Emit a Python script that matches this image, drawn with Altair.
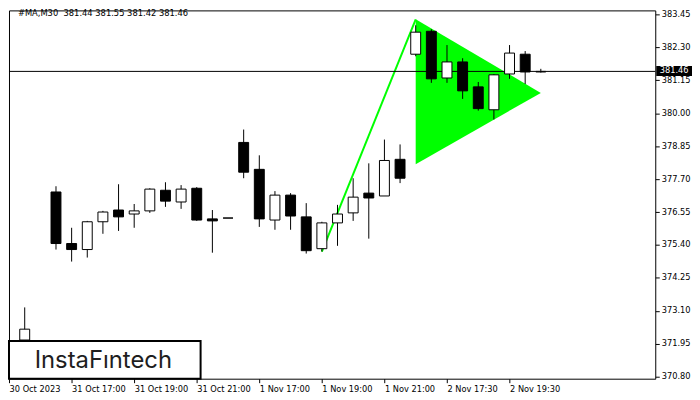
import altair as alt
import pandas as pd

# ---- data (M30 candles, index = slot position) ----
idx    = [1, 3, 4, 5, 6, 7, 8, 9, 10, 11, 12, 13, 14, 15, 16, 17, 18, 19, 20, 21, 22, 23, 24, 25,
          26, 27, 28, 29, 30, 31, 32, 33, 34]
opens  = [372.08, 377.25, 375.45, 375.24, 376.21, 376.62, 376.48, 376.59, 377.31, 376.90, 377.38, 376.31, 376.34,
          378.98, 378.04, 376.27, 377.14, 376.38, 375.27, 376.17, 376.52, 377.21, 377.11, 378.39,
          382.06, 382.86, 381.23, 381.79, 380.92, 380.12, 381.37, 382.06, 381.44]
highs  = [373.22, 377.45, 376.00, 376.24, 376.59, 377.52, 376.83, 377.38, 377.59, 377.49, 377.42, 376.62, 376.34,
          379.43, 378.53, 377.28, 377.21, 376.86, 376.21, 376.80, 377.73, 378.25, 379.08, 378.91,
          383.07, 382.93, 382.38, 381.92, 381.09, 381.37, 382.38, 382.17, 381.55]
lows   = [371.95, 375.24, 374.82, 374.96, 375.79, 375.89, 376.00, 376.52, 376.73, 376.66, 376.24, 375.13, 376.34,
          377.73, 376.03, 375.93, 375.93, 375.10, 375.17, 375.37, 376.24, 375.62, 377.11, 377.56,
          381.99, 381.06, 381.06, 380.50, 380.09, 379.78, 381.20, 381.02, 381.42]
closes = [372.46, 375.45, 375.24, 376.21, 376.55, 376.38, 376.59, 377.35, 376.93, 377.35, 376.27, 376.24, 376.34,
          377.94, 376.31, 377.14, 376.41, 375.20, 376.17, 376.48, 377.07, 377.04, 378.35, 377.73,
          382.83, 381.20, 381.79, 380.78, 380.16, 381.34, 382.10, 381.44, 381.46]

time_tick_idx = [0, 4, 8, 12, 16, 20, 24, 28, 32]
time_labels = ["30 Oct 2023", "31 Oct 17:00", "31 Oct 19:00", "31 Oct 21:00", "1 Nov 17:00",
               "1 Nov 19:00", "1 Nov 21:00", "2 Nov 17:30", "2 Nov 19:30"]
price_ticks = [370.80, 371.95, 373.10, 374.25, 375.40, 376.55, 377.70, 378.85, 380.00, 381.15, 382.30, 383.45]

pole_x = [20, 26]
pole_y = [375.17, 383.28]
flag_x = [26, 34]
flag_top = [383.28, 380.71]
flag_bot = [378.22, 380.71]

last_price = 381.46
title_text = "#MA,M30\u00a0\u00a0381.44 381.55 381.42 381.46"
logo_text = "InstaF\u0131ntech"

FONT = "DejaVu Sans"
GREEN = "#00FF00"

df = pd.DataFrame({"i": idx, "o": opens, "h": highs, "l": lows, "c": closes})

XS = alt.Scale(domain=[0.3125, 41], nice=False, zero=False)
YS = alt.Scale(domain=[370.73, 383.59], nice=False, zero=False)

label_arr = "[" + ",".join("'" + s + "'" for s in time_labels) + "]"
xaxis = alt.Axis(values=time_tick_idx, labelExpr=label_arr + "[round(datum.value/4)]",
                 labelAlign="left", labelBaseline="top", labelPadding=2, tickSize=4,
                 labelFont=FONT, labelFontSize=8.3, labelColor="black", tickColor="black",
                 domain=False, grid=False, labelOverlap=False, labelFlush=False, labelBound=False,
                 title=None, zindex=0)
yaxis = alt.Axis(orient="right", values=price_ticks, format=".2f", tickSize=4, labelPadding=2,
                 labelFont=FONT, labelFontSize=8.3, labelColor="black", tickColor="black",
                 domain=False, grid=False, labelOverlap=False, labelFlush=False, labelBound=False,
                 title=None, zindex=0)


def X(field):
    return alt.X(field, scale=XS, axis=xaxis, title=None)


def Y(field):
    return alt.Y(field, scale=YS, axis=yaxis, title=None)


flag = alt.Chart(pd.DataFrame({"x": flag_x, "t": flag_top, "b": flag_bot})).mark_area(
    color=GREEN, opacity=1).encode(x=X("x:Q"), y=Y("t:Q"), y2="b:Q")

pole = alt.Chart(pd.DataFrame({"x": pole_x, "y": pole_y})).mark_line(
    color=GREEN, strokeWidth=2).encode(x=X("x:Q"), y=Y("y:Q"))

pdf = pd.DataFrame({"p": [last_price]})
hline = alt.Chart(pdf).mark_rule(color="black", strokeWidth=1).encode(y=Y("p:Q"))

wicks = alt.Chart(df).mark_rule(color="black", strokeWidth=1).encode(
    x=X("i:Q"), y=Y("l:Q"), y2="h:Q")

bodies = alt.Chart(df).mark_bar(size=10, stroke="black", strokeWidth=1).encode(
    x=X("i:Q"), y=Y("o:Q"), y2="c:Q",
    fill=alt.condition("datum.c >= datum.o", alt.value("white"), alt.value("black")))

price_box = alt.Chart(pdf).mark_rect(color="black").encode(
    x=alt.value(652), x2=alt.value(688), y=alt.value(56), y2=alt.value(66))
price_txt = alt.Chart(pdf).mark_text(color="white", font=FONT, fontSize=8.3, align="center",
                                     baseline="middle").encode(
    x=alt.value(670), y=Y("p:Q"), text=alt.Text("p:Q", format=".2f"))

title = alt.Chart(pdf).mark_text(color="black", font=FONT, fontSize=8.4, align="left",
                                 baseline="middle").encode(
    x=alt.value(9), y=alt.value(3), text=alt.value(title_text))

logo_box = alt.Chart(pdf).mark_rect(fill="white", stroke="black", strokeWidth=2).encode(
    x=alt.value(0), x2=alt.value(193), y=alt.value(333), y2=alt.value(371))
logo_txt = alt.Chart(pdf).mark_text(color="#1e1e1e", font="Inter", fontSize=24, fontWeight=400,
                                    align="center", baseline="alphabetic").encode(
    x=alt.value(95), y=alt.value(360), text=alt.value(logo_text))

chart = alt.layer(flag, pole, hline, wicks, bodies, price_box, price_txt, title, logo_box, logo_txt
                  ).properties(width=651, height=371, padding=0, background="white"
                  ).configure_view(stroke="black", strokeWidth=1)

chart.save("out.html", embed_options={"renderer": "svg", "actions": False})
